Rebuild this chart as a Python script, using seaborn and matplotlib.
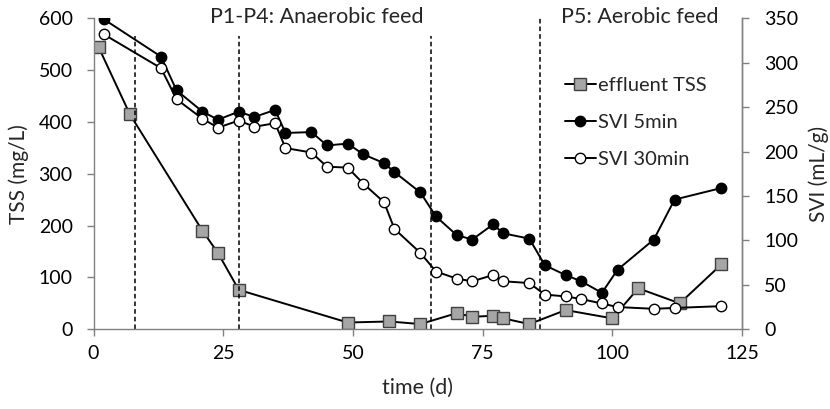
import numpy as np
import pandas as pd
import matplotlib
matplotlib.use('Agg')
import matplotlib.pyplot as plt
import seaborn as sns

# effluent TSS (left axis)
days_tss = [1, 7, 21, 24, 28, 49, 57, 63, 70, 73, 77, 79, 84, 91, 100, 105, 113, 121]
tss = [544, 415, 190, 147, 76, 13, 15, 10, 31, 24, 26, 21, 10, 37, 21, 79, 50, 125]

# SVI (right axis)
days_svi = [2, 13, 16, 21, 24, 28, 31, 35, 37, 42, 45, 49, 52, 56, 58, 63, 66,
            70, 73, 77, 79, 84, 87, 91, 94, 98, 101, 108, 112, 121]
svi5 = [349, 307, 269, 245, 236, 245, 239, 247, 221, 222, 207, 209, 197, 187, 177,
        154, 127, 106, 101, 118, 108, 102, 72, 61, 54, 41, 67, 101, 146, 159]
svi30 = [332, 294, 259, 237, 227, 235, 228, 232, 204, 199, 183, 182, 164, 143, 113,
         86, 65, 57, 54, 61, 54, 52, 39, 37, 34, 29, 25, 23, 24, 26]

# phase boundaries (day, top of dashed line in mg/L)
phase_days = [8, 28, 65, 86]
phase_tops = [566, 566, 566, 600]

sns.set_style('white')
plt.rcParams['font.family'] = ['Lato', 'DejaVu Sans']
plt.rcParams['font.size'] = 15

fig = plt.figure(figsize=(8.3, 4.09), dpi=100)
ax = fig.add_axes([0.1127, 0.195, 0.7813, 0.76])
ax2 = ax.twinx()

df_tss = pd.DataFrame({'day': days_tss, 'tss': tss})
df_svi = pd.DataFrame({'day': days_svi, 'svi5': svi5, 'svi30': svi30})

sns.lineplot(data=df_tss, x='day', y='tss', ax=ax, color='black', lw=1.4,
             marker='s', markersize=8, markerfacecolor='#a6a6a6',
             markeredgecolor='#404040', markeredgewidth=1.0, label='effluent TSS',
             legend=False)
sns.lineplot(data=df_svi, x='day', y='svi5', ax=ax2, color='black', lw=1.4,
             marker='o', markersize=7.5, markerfacecolor='black',
             markeredgecolor='black', markeredgewidth=1.0, label='SVI 5min',
             legend=False)
sns.lineplot(data=df_svi, x='day', y='svi30', ax=ax2, color='black', lw=1.4,
             marker='o', markersize=7.5, markerfacecolor='white',
             markeredgecolor='black', markeredgewidth=1.0, label='SVI 30min',
             legend=False)

ax.vlines(phase_days, 0, phase_tops, colors='black', linestyles=(0, (3, 2)), lw=1.1)

ax.set_xlim(0, 125)
ax.set_ylim(0, 600)
ax2.set_ylim(0, 350)
ax.set_xticks(np.arange(0, 126, 25))
ax.set_yticks(np.arange(0, 601, 100))
ax2.set_yticks(np.arange(0, 351, 50))

ax.set_xlabel('time (d)', fontsize=15.5, labelpad=12)
ax.set_ylabel('TSS (mg/L)', fontsize=15, labelpad=7)
ax2.set_ylabel('SVI (mL/g)', fontsize=15, labelpad=7)

for a in (ax, ax2):
    a.spines['top'].set_visible(False)
    for s in a.spines.values():
        s.set_color('#808080')
        s.set_linewidth(1.0)
    a.tick_params(direction='out', length=5, width=1.0, color='#808080',
                  labelcolor='black', labelsize=14)
ax.tick_params(axis='x', bottom=True, pad=6)
ax.tick_params(axis='y', left=True, pad=10)
ax2.tick_params(axis='y', right=True, pad=11)
ax2.spines['left'].set_visible(False)
ax2.spines['bottom'].set_visible(False)

ax.text(43, 603, 'P1-P4: Anaerobic feed', ha='center', va='center', fontsize=15.5)
ax.text(105.3, 603, 'P5: Aerobic feed', ha='center', va='center', fontsize=15.5)

h1, l1 = ax.get_legend_handles_labels()
h2, l2 = ax2.get_legend_handles_labels()
ax2.legend(h1 + h2, l1 + l2, loc='upper left', bbox_to_anchor=(0.712, 0.845),
           frameon=False, handlelength=1.5, handletextpad=0.1, labelspacing=1.0,
           borderpad=0, fontsize=14.5)

fig.savefig('out.png', dpi=100)
